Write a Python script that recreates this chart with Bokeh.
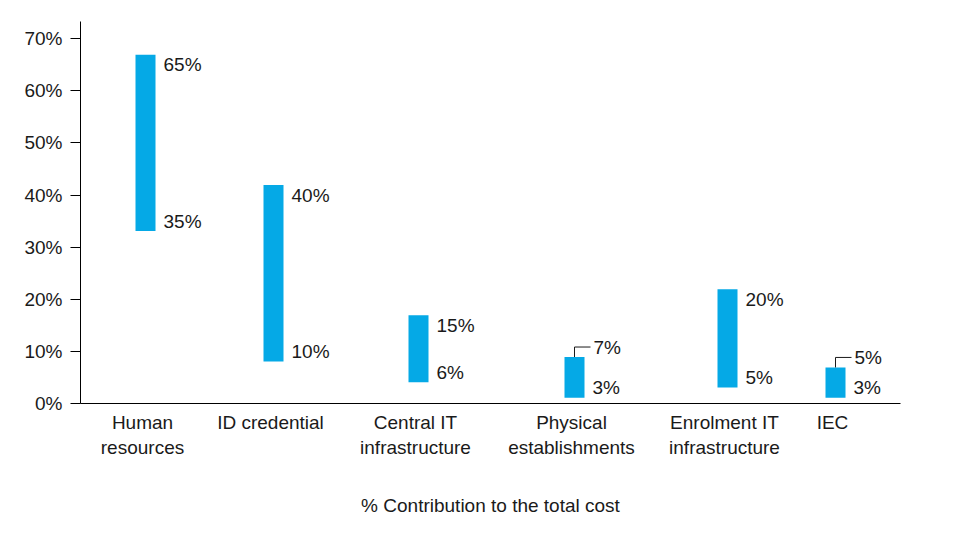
from bokeh.plotting import figure
from bokeh.models import Range1d, FixedTicker, ColumnDataSource
from bokeh.embed import file_html
from bokeh.resources import INLINE
from bokeh.core.properties import value

# ---- data ----
categories = ["Human\nresources", "ID credential", "Central IT\ninfrastructure",
              "Physical\nestablishments", "Enrolment IT\ninfrastructure", "IEC"]
low_pct = [35, 10, 6, 3, 5, 3]
high_pct = [65, 40, 15, 7, 20, 5]
y_ticks = [0, 10, 20, 30, 40, 50, 60, 70]
x_title = "% Contribution to the total cost"

# ---- layout / style ----
x_pos = [65, 193, 338, 494, 647, 755]          # horizontal placement of each category
leader = [False, False, False, True, False, True]  # label drawn above bar with leader line
FRAME_W, FRAME_H = 820, 382
Y_MAX = 73.3
PAD = 10 * Y_MAX / FRAME_H   # 10 px in data units
BAR_COLOR = "#05A9E6"
TEXT_COLOR = "#1a1a1a"
FONT = "Liberation Sans"
FS = "19px"

p = figure(frame_width=FRAME_W, frame_height=FRAME_H,
           min_border_left=80, min_border_right=37, min_border_top=21, min_border_bottom=134,
           x_range=Range1d(0, FRAME_W), y_range=Range1d(0, Y_MAX),
           output_backend="svg", toolbar_location=None, tools="")
p.outline_line_color = None
p.xgrid.grid_line_color = None
p.ygrid.grid_line_color = None
p.background_fill_color = "white"
p.border_fill_color = "white"

bottoms = [lo - PAD for lo in low_pct]
tops = [hi + PAD for hi in high_pct]
src = ColumnDataSource(dict(x=x_pos, bottom=bottoms, top=tops))
p.vbar(x="x", width=20, bottom="bottom", top="top", source=src,
       fill_color=BAR_COLOR, line_color=None)

# low labels
p.text(x=x_pos, y=low_pct, text=[f"{v}%" for v in low_pct], x_offset=18,
       text_align="left", text_baseline="middle", text_font=value(FONT),
       text_font_size=FS, text_color=TEXT_COLOR)

# high labels
hi_y = [(t + PAD) if ld else h for t, h, ld in zip(tops, high_pct, leader)]
hi_xoff = [19 if ld else 18 for ld in leader]
p.text(x=x_pos, y=hi_y, text=[f"{v}%" for v in high_pct], x_offset=hi_xoff,
       text_align="left", text_baseline="middle", text_font=value(FONT),
       text_font_size=FS, text_color=TEXT_COLOR)

# leader lines
lx, ly = [], []
for x, t, ld in zip(x_pos, tops, leader):
    if ld:
        lx.append([x, x, x + 16])
        ly.append([t, t + PAD, t + PAD])
p.multi_line(xs=lx, ys=ly, line_color=TEXT_COLOR, line_width=1)

# y axis
p.yaxis.ticker = FixedTicker(ticks=y_ticks)
p.yaxis.major_label_overrides = {t: f"{t}%" for t in y_ticks}
p.yaxis.minor_tick_line_color = None
p.yaxis.major_tick_out = 10
p.yaxis.major_tick_in = 0
p.yaxis.major_label_standoff = 8
p.yaxis.axis_line_color = "black"
p.yaxis.major_tick_line_color = "black"
p.yaxis.major_label_text_font = FONT
p.yaxis.major_label_text_font_size = FS
p.yaxis.major_label_text_color = TEXT_COLOR

# x axis
tick_pos = [x - 3 for x in x_pos]
p.xaxis.ticker = FixedTicker(ticks=tick_pos)
p.xaxis.major_label_overrides = {t: c for t, c in zip(tick_pos, categories)}
p.xaxis.major_tick_line_color = None
p.xaxis.minor_tick_line_color = None
p.xaxis.major_label_standoff = 2
p.xaxis.axis_line_color = "black"
p.xaxis.major_label_text_font = FONT
p.xaxis.major_label_text_font_size = FS
p.xaxis.major_label_text_color = TEXT_COLOR
p.xaxis.axis_label = x_title
p.xaxis.axis_label_text_font = FONT
p.xaxis.axis_label_text_font_size = FS
p.xaxis.axis_label_text_font_style = "normal"
p.xaxis.axis_label_text_color = TEXT_COLOR
p.xaxis.axis_label_standoff = 34

open("out.html", "w").write(file_html(p, INLINE))
